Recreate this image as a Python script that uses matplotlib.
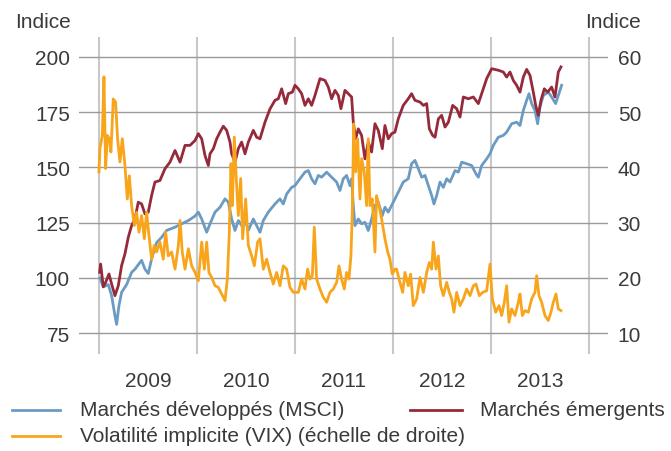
import numpy as np
import matplotlib
matplotlib.use("Agg")
import matplotlib.pyplot as plt
from matplotlib.lines import Line2D

# valeurs (annee decimale)
dev_t = [2009.010, 2009.044, 2009.095, 2009.129, 2009.163, 2009.180, 2009.204, 2009.231,
         2009.282, 2009.333, 2009.367, 2009.435, 2009.469, 2009.503, 2009.537, 2009.588,
         2009.639, 2009.690, 2009.776, 2009.844, 2009.912, 2009.980,
         2010.014, 2010.048, 2010.099, 2010.133, 2010.184, 2010.235, 2010.286, 2010.320,
         2010.354, 2010.388, 2010.422, 2010.456, 2010.490, 2010.524, 2010.575, 2010.609,
         2010.643, 2010.677, 2010.728, 2010.796, 2010.847, 2010.881, 2010.915, 2010.966,
         2011.000, 2011.051, 2011.102, 2011.136, 2011.170, 2011.204, 2011.238, 2011.272,
         2011.323, 2011.374, 2011.425, 2011.459, 2011.493, 2011.527, 2011.561, 2011.578,
         2011.595, 2011.612, 2011.646, 2011.680, 2011.714, 2011.748, 2011.782, 2011.816,
         2011.850, 2011.891, 2011.918, 2011.952, 2011.986,
         2012.003, 2012.054, 2012.105, 2012.156, 2012.190, 2012.224, 2012.259, 2012.293,
         2012.327, 2012.361, 2012.395, 2012.418, 2012.446, 2012.480, 2012.514, 2012.548,
         2012.582, 2012.633, 2012.667, 2012.701, 2012.752, 2012.803, 2012.847, 2012.871,
         2012.905, 2012.956, 2012.990,
         2013.024, 2013.075, 2013.126, 2013.160, 2013.211, 2013.262, 2013.296, 2013.330,
         2013.364, 2013.388, 2013.415, 2013.449, 2013.476, 2013.500, 2013.534, 2013.585,
         2013.619, 2013.660, 2013.687, 2013.721]
dev_v = [100.0, 96.0, 97.0, 92.0, 83.0, 79.0, 87.5, 93.5,
         97.0, 102.5, 104.0, 108.0, 104.0, 102.0, 108.6, 116.0,
         118.4, 121.5, 123.0, 124.5, 126.0, 128.0,
         129.8, 126.7, 120.7, 124.5, 129.8, 132.0, 135.8, 134.3,
         126.7, 121.5, 126.0, 123.7, 126.7, 121.5, 126.7, 123.7,
         120.7, 126.0, 129.8, 133.5, 135.8, 133.5, 138.0, 141.0,
         141.8, 144.9, 147.9, 148.6, 144.9, 142.6, 146.4, 145.6,
         147.9, 145.6, 143.4, 139.6, 144.9, 146.4, 141.8, 144.9,
         132.8, 123.7, 126.7, 124.5, 125.2, 121.5, 126.7, 132.8,
         134.3, 128.2, 132.0, 129.8, 132.8,
         134.3, 138.8, 143.4, 144.9, 151.7, 153.2, 149.4, 145.6,
         146.4, 141.8, 137.3, 133.5, 137.3, 143.4, 141.0, 144.9,
         143.4, 148.6, 147.9, 152.4, 151.7, 150.9, 147.1, 145.6,
         150.9, 153.9, 156.2,
         160.0, 163.7, 164.5, 166.0, 169.8, 170.5, 169.0, 175.8,
         180.4, 183.4, 178.9, 175.8, 169.8, 177.3, 182.6, 184.1,
         181.9, 178.9, 182.6, 187.2]

em_t = [2009.007, 2009.017, 2009.044, 2009.068, 2009.102, 2009.129, 2009.163, 2009.197,
        2009.231, 2009.265, 2009.299, 2009.333, 2009.367, 2009.401, 2009.435, 2009.469,
        2009.503, 2009.537, 2009.571, 2009.622, 2009.673, 2009.724, 2009.776, 2009.827,
        2009.878, 2009.929, 2009.980,
        2010.014, 2010.048, 2010.082, 2010.116, 2010.133, 2010.167, 2010.201, 2010.235,
        2010.269, 2010.303, 2010.337, 2010.354, 2010.388, 2010.422, 2010.456, 2010.490,
        2010.524, 2010.575, 2010.609, 2010.643, 2010.694, 2010.745, 2010.796, 2010.830,
        2010.864, 2010.905, 2010.932, 2010.973,
        2011.000, 2011.034, 2011.068, 2011.102, 2011.136, 2011.170, 2011.204, 2011.255,
        2011.306, 2011.340, 2011.374, 2011.408, 2011.442, 2011.469, 2011.510, 2011.544,
        2011.578, 2011.595, 2011.619, 2011.646, 2011.680, 2011.714, 2011.748, 2011.782,
        2011.816, 2011.850, 2011.891, 2011.918, 2011.952, 2011.986,
        2012.020, 2012.054, 2012.105, 2012.156, 2012.190, 2012.224, 2012.276, 2012.310,
        2012.344, 2012.371, 2012.405, 2012.429, 2012.463, 2012.497, 2012.531, 2012.565,
        2012.609, 2012.650, 2012.684, 2012.718, 2012.769, 2012.820, 2012.871, 2012.905,
        2012.956, 2013.007,
        2013.075, 2013.126, 2013.160, 2013.194, 2013.228, 2013.262, 2013.296, 2013.330,
        2013.364, 2013.398, 2013.432, 2013.456, 2013.483, 2013.510, 2013.544, 2013.578,
        2013.619, 2013.653, 2013.687, 2013.714]
em_v = [102.6, 106.3, 96.0, 98.0, 101.8, 97.3, 92.0, 96.5,
        105.6, 110.9, 118.4, 123.7, 126.7, 134.3, 133.5, 129.0,
        129.8, 137.3, 143.4, 144.1, 149.4, 152.4, 157.7, 152.4,
        160.0, 160.0, 162.2,
        165.3, 163.0, 155.4, 150.9, 156.2, 158.5, 163.0, 166.0,
        168.7, 166.8, 161.5, 156.2, 152.4, 158.5, 161.5, 156.2,
        161.5, 166.8, 163.7, 163.0, 170.5, 176.5, 180.4, 181.1,
        185.6, 178.9, 183.4, 184.1,
        187.2, 185.6, 183.4, 178.1, 181.1, 178.1, 182.6, 190.2,
        189.4, 186.4, 181.1, 184.9, 182.6, 176.6, 184.9, 183.4,
        181.9, 170.5, 163.0, 167.5, 164.5, 153.9, 161.5, 157.0,
        169.8, 166.8, 158.5, 169.0, 163.0, 165.3,
        166.0, 172.0, 178.1, 181.1, 183.4, 180.4, 179.6, 178.1,
        178.9, 167.5, 164.5, 163.7, 172.0, 173.6, 168.3, 170.5,
        178.1, 176.6, 172.8, 181.9, 181.1, 181.9, 178.9, 183.4,
        190.2, 194.7,
        194.0, 193.2, 190.9, 193.2, 189.4, 187.2, 184.1, 190.9,
        194.4, 191.7, 184.1, 178.1, 173.6, 180.4, 185.6, 184.1,
        186.4, 181.9, 193.2, 195.5]

vix_t = [2009.000, 2009.010, 2009.034, 2009.051, 2009.068, 2009.085, 2009.105, 2009.122,
         2009.146, 2009.170, 2009.190, 2009.214, 2009.238, 2009.265, 2009.289, 2009.310,
         2009.333, 2009.361, 2009.384, 2009.408, 2009.435, 2009.463, 2009.486, 2009.510,
         2009.537, 2009.565, 2009.588, 2009.622, 2009.656, 2009.680, 2009.707, 2009.741,
         2009.776, 2009.810, 2009.827, 2009.850, 2009.878, 2009.912, 2009.946, 2009.980,
         2010.014, 2010.048, 2010.075, 2010.099, 2010.122, 2010.150, 2010.184, 2010.218,
         2010.252, 2010.286, 2010.310, 2010.330, 2010.347, 2010.361, 2010.381, 2010.401,
         2010.422, 2010.446, 2010.466, 2010.497, 2010.524, 2010.558, 2010.585, 2010.619,
         2010.643, 2010.677, 2010.711, 2010.745, 2010.779, 2010.813, 2010.847, 2010.881,
         2010.915, 2010.949, 2010.983,
         2011.034, 2011.068, 2011.102, 2011.129, 2011.153, 2011.177, 2011.197, 2011.221,
         2011.255, 2011.289, 2011.323, 2011.357, 2011.391, 2011.425, 2011.449, 2011.476,
         2011.503, 2011.527, 2011.551, 2011.571, 2011.585, 2011.599, 2011.619, 2011.639,
         2011.663, 2011.680, 2011.707, 2011.731, 2011.748, 2011.765, 2011.789, 2011.816,
         2011.833, 2011.857, 2011.884, 2011.918, 2011.946, 2011.969, 2011.993,
         2012.020, 2012.037, 2012.071, 2012.099, 2012.122, 2012.156, 2012.180, 2012.207,
         2012.241, 2012.276, 2012.310, 2012.344, 2012.371, 2012.395, 2012.412, 2012.439,
         2012.463, 2012.486, 2012.514, 2012.548, 2012.575, 2012.599, 2012.622, 2012.650,
         2012.684, 2012.718, 2012.752, 2012.786, 2012.820, 2012.847, 2012.881, 2012.915,
         2012.956, 2012.990,
         2013.014, 2013.048, 2013.082, 2013.109, 2013.136, 2013.160, 2013.184, 2013.211,
         2013.245, 2013.279, 2013.296, 2013.320, 2013.347, 2013.381, 2013.415, 2013.449,
         2013.466, 2013.490, 2013.517, 2013.551, 2013.585, 2013.612, 2013.636, 2013.663,
         2013.687, 2013.714]
vix_v = [39.2, 43.4, 45.8, 56.4, 39.8, 45.8, 45.2, 42.8,
         52.4, 51.8, 45.2, 41.0, 45.2, 40.4, 34.3, 38.5,
         33.1, 29.5, 31.9, 28.3, 31.3, 27.1, 31.9, 27.7,
         23.4, 25.9, 24.7, 26.5, 23.4, 28.3, 24.0, 24.7,
         21.6, 25.9, 30.4, 24.7, 21.6, 25.3, 22.2, 21.0,
         19.5, 26.5, 21.6, 26.5, 21.0, 20.1, 18.6, 18.3,
         17.1, 15.9, 19.8, 28.3, 40.7, 33.1, 45.5, 38.0,
         31.3, 38.0, 27.1, 34.3, 25.9, 24.0, 22.2, 26.5,
         27.1, 21.6, 23.4, 21.0, 18.9, 21.0, 18.6, 22.2,
         21.6, 18.3, 17.4,
         17.4, 19.8, 18.0, 21.6, 19.8, 20.4, 29.2, 19.8,
         18.0, 16.5, 15.6, 17.4, 18.0, 19.2, 22.2, 19.8,
         18.0, 21.0, 19.8, 24.0, 31.9, 47.9, 39.2, 45.2,
         34.3, 41.6, 39.2, 33.1, 45.2, 33.1, 34.3, 24.7,
         34.9, 33.1, 30.7, 27.1, 24.7, 23.4, 20.7,
         21.6, 21.6, 19.2, 17.4, 21.0, 18.6, 20.7, 15.0,
         16.2, 20.1, 17.4, 21.0, 22.8, 21.6, 26.5, 21.6,
         24.0, 18.6, 16.8, 19.2, 17.4, 16.2, 13.8, 17.4,
         15.0, 16.2, 18.0, 16.8, 18.6, 18.9, 16.8, 17.4,
         17.7, 22.5,
         16.2, 13.8, 15.0, 13.2, 15.6, 18.6, 12.0, 14.4,
         13.2, 15.6, 17.1, 13.2, 14.1, 13.8, 16.2, 17.4,
         20.4, 16.8, 15.6, 13.2, 12.3, 13.8, 15.6, 17.1,
         14.4, 14.1]

years = [2009, 2010, 2011, 2012, 2013]
year_bounds = [2009, 2010, 2011, 2012, 2013, 2014]
left_ticks = [75, 100, 125, 150, 175, 200]
right_ticks = [10, 20, 30, 40, 50, 60]

labels = ["Marchés développés (MSCI)", "Marchés émergents",
          "Volatilité implicite (VIX) (échelle de droite)"]
c_dev = "#6b9bc3"
c_em = "#952a3b"
c_vix = "#f9a51b"
txt = "#3a3a3a"

plt.rcParams['font.family'] = ['Liberation Sans', 'DejaVu Sans']
plt.rcParams['font.size'] = 15

fig = plt.figure(figsize=(6.71, 4.52), dpi=100)
ax = fig.add_axes([0.1177, 0.2146, 0.7884, 0.7014])
ax2 = ax.twinx()

ylo, yhi = 65.6, 209.06
ax.set_ylim(ylo, yhi)
ax2.set_ylim((ylo - 75) * 0.4 + 10, (yhi - 75) * 0.4 + 10)
ax.set_xlim(2008.796, 2014.194)

for yb in year_bounds:
    ax.axvline(yb, color="#c8c8c8", lw=1.5, zorder=0)
for yt in left_ticks:
    ax.axhline(yt, color="#9a9a9a", lw=1.0, zorder=0)

ax.plot(dev_t, dev_v, color=c_dev, lw=2.0, zorder=2)
ax.plot(em_t, em_v, color=c_em, lw=2.0, zorder=3)
ax2.plot(vix_t, vix_v, color=c_vix, lw=2.0)

ax.set_yticks(left_ticks)
ax2.set_yticks(right_ticks)
ax.set_xticks([y + 0.5 for y in years])
ax.set_xticklabels([str(y) for y in years])
ax.tick_params(axis='x', length=0, pad=12, colors=txt)
ax.tick_params(axis='y', length=0, pad=6.5, colors=txt)
ax2.tick_params(axis='y', length=0, pad=7, colors=txt)
for a in (ax, ax2):
    for s in a.spines.values():
        s.set_visible(False)

fig.text(71 / 671, 1 - 22 / 452, "Indice", ha='right', va='center', color=txt)
fig.text(641 / 671, 1 - 22 / 452, "Indice", ha='right', va='center', color=txt)

# legende
def leg_item(x0, x1, xt, y, color, label):
    fig.add_artist(Line2D([x0 / 671, x1 / 671], [1 - y / 452, 1 - y / 452],
                          color=color, lw=2.0, transform=fig.transFigure))
    fig.text(xt / 671, 1 - y / 452, label, ha='left', va='center', color=txt)

leg_item(12, 60, 80, 411, c_dev, labels[0])
leg_item(410, 462, 480, 411, c_em, labels[1])
leg_item(12, 60, 80, 437, c_vix, labels[2])

fig.savefig("out.png", dpi=100)
